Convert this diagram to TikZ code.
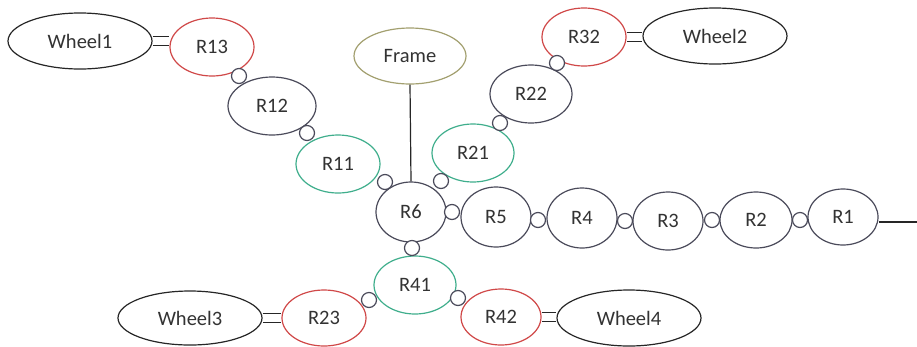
\documentclass[tikz,border=0pt]{standalone}
\usepackage{fontspec}
\setmainfont{Carlito}
\usetikzlibrary{shapes.geometric}
\definecolor{cred}{HTML}{D04848}
\definecolor{cgreen}{HTML}{3FAE8C}
\definecolor{cgray}{HTML}{4A4A5A}
\definecolor{colive}{HTML}{A3A070}
\definecolor{ctext}{HTML}{333333}
\begin{document}
\begin{tikzpicture}[x=1pt,y=-1pt,
  every node/.style={font=\fontsize{20.5}{22}\selectfont, text=ctext},
  ell/.style={ellipse, draw=cgray, line width=1.2pt, inner sep=0pt, fill=white},
  wheel/.style={ell, draw=black!85, minimum width=144pt, minimum height=56pt},
  jnt/.style={ell, minimum width=70pt, minimum height=58pt},
  redj/.style={jnt, draw=cred, minimum width=84pt},
  greenj/.style={jnt, draw=cgreen, minimum width=84pt},
  grayj/.style={jnt, draw=cgray},
  pin/.style={circle, draw=cgray, line width=1.2pt, fill=white, inner sep=0pt, minimum size=15pt},
  link/.style={line width=1.2pt, draw=black!85},
  dlink/.style={line width=1.2pt, draw=black!85, double=white, double distance=8pt}]
\useasboundingbox (0,0) rectangle (917,346);
% wheels and frame
\node[wheel] (w1) at (80,41) {Wheel1};
\node[wheel] (w2) at (715,36) {Wheel2};
\node[wheel, minimum height=54pt] (w3) at (190,318) {Wheel3};
\node[wheel] (w4) at (629,318) {Wheel4};
\node[ell, draw=colive, minimum width=112pt, minimum height=56pt] (frame) at (410,56) {Frame};
% joints
\node[redj] (r13) at (212,47) {R13};
\node[grayj, minimum width=88pt] (r12) at (272,106) {R12};
\node[greenj] (r11) at (338,164) {R11};
\node[redj] (r32) at (584,37) {R32};
\node[grayj, minimum width=82pt] (r22) at (531,94) {R22};
\node[greenj, minimum width=82pt] (r21) at (473,153) {R21};
\node[grayj, minimum height=60pt] (r6) at (411,212) {R6};
\node[grayj, minimum height=60pt] (r5) at (496,217) {R5};
\node[grayj, minimum height=60pt] (r4) at (582,218) {R4};
\node[grayj] (r3) at (668,221) {R3};
\node[grayj, minimum width=72pt, minimum height=56pt] (r2) at (756,220) {R2};
\node[grayj, minimum height=56pt] (r1) at (843,217) {R1};
\node[greenj, minimum width=82pt] (r41) at (415,285) {R41};
\node[redj, minimum height=56pt] (r23) at (324,318) {R23};
\node[redj, minimum width=80pt, minimum height=56pt] (r42) at (501,317) {R42};
% rigid links
\draw[dlink] (w1.east) -- (w1.east -| r13.west);
\draw[dlink] (r32.east) -- (r32.east -| w2.west);
\draw[dlink] (w3.east) -- (w3.east -| r23.west);
\draw[dlink] (r42.east) -- (r42.east -| w4.west);
% frame link and output shaft
\draw[link] (frame.south) -- (r6.north);
\coordinate (shaft) at (917,222);
\draw[link] (r1.east |- shaft) -- (shaft);
% revolute pins
\node[pin] (c1) at (239,76) {};
\node[pin] (c2) at (307,133) {};
\node[pin] (c3) at (385,182) {};
\node[pin] (c4) at (441,181) {};
\node[pin] (c5) at (500,123) {};
\node[pin] (c6) at (557,63) {};
\node[pin] (c7) at (452,212) {};
\node[pin] (c8) at (538,220) {};
\node[pin] (c9) at (625,221) {};
\node[pin] (c10) at (712,220) {};
\node[pin] (c11) at (800,220) {};
\node[pin] (c12) at (412,248) {};
\node[pin] (c13) at (369,300) {};
\node[pin] (c14) at (458,298) {};
\end{tikzpicture}
\end{document}
